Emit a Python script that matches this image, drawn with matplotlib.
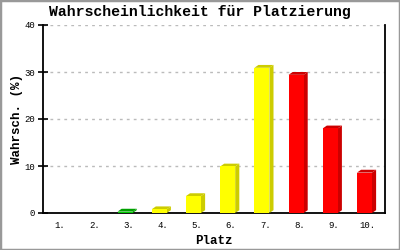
import matplotlib.pyplot as plt
from matplotlib.patches import Polygon, Rectangle

places = ["1.", "2.", "3.", "4.", "5.", "6.", "7.", "8.", "9.", "10."]
probs = [0.0, 0.0, 0.3, 0.8, 3.6, 9.9, 30.9, 29.4, 18.0, 8.6]
colors = ["#00cc00", "#00cc00", "#00cc00", "#ffff00", "#ffff00",
          "#ffff00", "#ffff00", "#ff0000", "#ff0000", "#ff0000"]
shades = ["#00a000", "#00a000", "#00a000", "#cccc00", "#cccc00",
          "#cccc00", "#cccc00", "#cc0000", "#cc0000", "#cc0000"]

mono = "Liberation Mono"

fig = plt.figure(figsize=(4, 2.5), dpi=100)
ax = fig.add_axes([0.1075, 0.148, 0.855, 0.752])

width = 0.44
dx = 0.12   # depth offset in x (data units)
dy = 0.6    # depth offset in y (data units)

for i, (v, c, s) in enumerate(zip(probs, colors, shades)):
    if v <= 0:
        continue
    x = i + 1 - width / 2 - 0.1
    # side face
    ax.add_patch(Polygon([(x + width, 0), (x + width + dx, dy), (x + width + dx, v + dy),
                          (x + width, v)], closed=True, facecolor=s, edgecolor="none", zorder=3))
    # top face
    ax.add_patch(Polygon([(x, v), (x + dx, v + dy), (x + width + dx, v + dy),
                          (x + width, v)], closed=True, facecolor=s, edgecolor="none", zorder=3))
    # front face
    ax.add_patch(Rectangle((x, 0), width, v, facecolor=c, edgecolor="none", zorder=4))

ax.set_xlim(0.5, 10.5)
ax.set_ylim(0, 40)
ax.set_yticks([0, 10, 20, 30, 40])
ax.set_xticks(range(1, 11))
ax.set_xticklabels(places)
ax.yaxis.grid(True, color="#bbbbbb", linestyle=(0, (2, 3)), linewidth=1)
ax.set_axisbelow(True)

for side in ["left", "bottom", "right"]:
    ax.spines[side].set_linewidth(1.3)
    ax.spines[side].set_color("black")
ax.spines["top"].set_visible(False)

ax.tick_params(axis="y", direction="inout", length=7, width=1.2, labelsize=6.5, pad=2)
ax.tick_params(axis="x", length=0, labelsize=6.5, pad=6)
for lab in ax.get_xticklabels() + ax.get_yticklabels():
    lab.set_family(mono)

ax.set_xlabel("Platz", family=mono, fontweight="bold", fontsize=9, labelpad=3)
ax.set_ylabel("Wahrsch. (%)", family=mono, fontweight="bold", fontsize=9, labelpad=1)
fig.suptitle("Wahrscheinlichkeit für Platzierung", family=mono, fontweight="bold",
             fontsize=10.7, x=0.5, y=0.98)

fig.patches.append(Rectangle((0, 0), 1, 1, transform=fig.transFigure, fill=False,
                             edgecolor="#999999", linewidth=2.5))

fig.savefig("out.png", dpi=100)
